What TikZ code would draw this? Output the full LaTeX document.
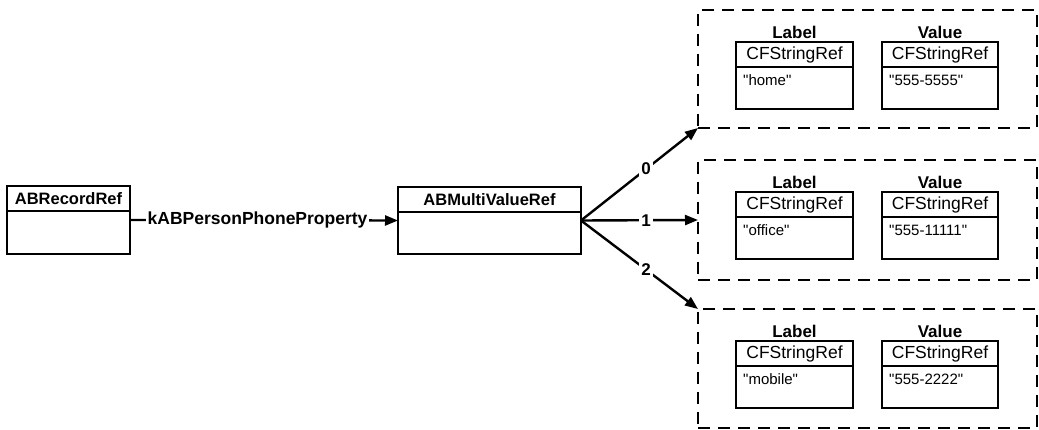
\documentclass[tikz,border=0pt]{standalone}
\usepackage{fontspec}
\setmainfont{Liberation Sans}
\newfontfamily\contfont{Liberation Sans}[Ligatures=TeXOff]
\usetikzlibrary{arrows.meta,calc}
\tikzset{
  box/.style={draw, rectangle, line width=2.4pt, inner sep=0pt, outer sep=0pt},
  group/.style={draw, rectangle, line width=2.4pt, dash pattern=on 12pt off 8pt, inner sep=0pt, outer sep=0pt},
  hdr/.style={font=\fontsize{16.5}{18}\selectfont\bfseries, inner sep=0pt},
  cont/.style={font=\contfont\fontsize{15}{17}\selectfont, inner sep=0pt},
  ttl/.style={font=\fontsize{17}{19}\selectfont\bfseries, inner sep=3.5pt},
  conn/.style={line width=2.4pt, -{Triangle[length=13pt,width=10pt]}},
  clab/.style={font=\fontsize{17}{19}\selectfont\bfseries, fill=white, inner sep=2pt}
}
\newcommand{\mybox}[7]{%
  \node[box, minimum width=#4, minimum height=#5] (#1) at (#2,#3) {};
  \draw[line width=2.4pt] ($(#1.north west)+(0,25)$) -- ($(#1.north east)+(0,25)$);
  \node[hdr] (#1h) at ($(#1.north)+(0,12.5)$) {#6};
  \node[cont, anchor=west] (#1c) at ($(#1.north west)+(7,38)$) {#7};
}
\begin{document}
\begin{tikzpicture}[x=1pt,y=-1pt]
\useasboundingbox (0,0) rectangle (1039,430);
% main boxes
\mybox{rec}{68.5}{220}{123}{68}{ABRecordRef}{}
\mybox{mv}{489.5}{220.5}{183}{67}{ABMultiValueRef}{}
\draw[conn] (rec.east) -- node[clab, pos=0.476, font=\fontsize{17.5}{19}\selectfont\bfseries] {kABPersonPhoneProperty} (mv.east -| mv.west);
% groups
\node[group, minimum width=339, minimum height=118] (g0) at (867.5,69) {};
\node[group, minimum width=339, minimum height=120] (g1) at (867.5,220) {};
\node[group, minimum width=339, minimum height=119] (g2) at (867.5,368.5) {};
\draw[conn] (mv.east) -- node[clab, pos=0.556] {0} (g0.south west);
\draw[conn] (mv.east) -- node[clab, pos=0.556] {1} (g1.west);
\draw[conn] (mv.east) -- node[clab, pos=0.556] {2} (g2.north west);
% inner boxes
\tikzset{hdr/.style={font=\fontsize{17.5}{19}\selectfont, inner sep=0pt}}
\mybox{l0}{794.5}{75.5}{117}{67}{CFStringRef}{"home"}
\mybox{v0}{940}{75.5}{116}{67}{CFStringRef}{"555-5555"}
\mybox{l1}{794.5}{225.5}{117}{67}{CFStringRef}{"office"}
\mybox{v1}{940}{225.5}{116}{67}{CFStringRef}{"555-11111"}
\mybox{l2}{794.5}{374.5}{117}{67}{CFStringRef}{"mobile"}
\mybox{v2}{940}{374.5}{116}{67}{CFStringRef}{"555-2222"}
\foreach \b in {l0,l1,l2} \node[ttl, anchor=south] at (\b.north) {Label};
\foreach \b in {v0,v1,v2} \node[ttl, anchor=south] at (\b.north) {Value};
\end{tikzpicture}
\end{document}
